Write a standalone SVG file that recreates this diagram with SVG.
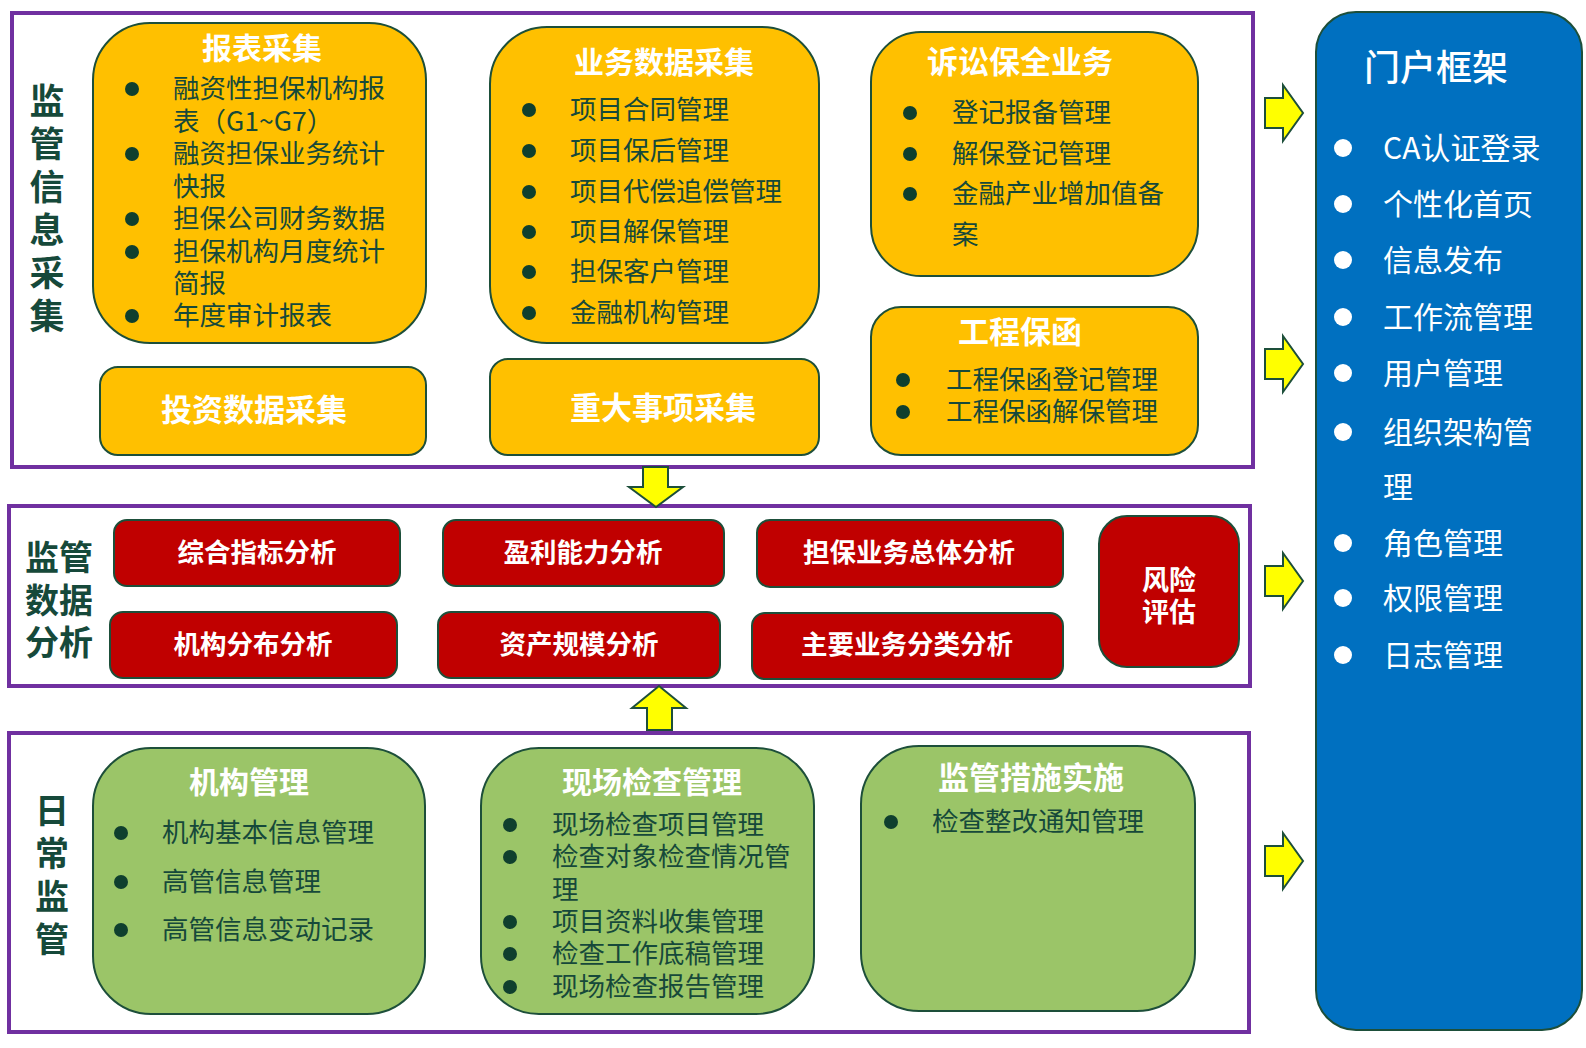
<svg xmlns="http://www.w3.org/2000/svg" width="1586" height="1048" viewBox="0 0 1586 1048">
<style>
text{font-family:"Noto Sans CJK SC","Noto Sans",sans-serif}
.frame{fill:#fff;stroke:#7030A0;stroke-width:4}
.yel{fill:#FFC000;stroke:#1D4F3A;stroke-width:2}
.red{fill:#C00000;stroke:#1D4F3A;stroke-width:2}
.grn{fill:#9BC568;stroke:#1D4F3A;stroke-width:2}
.blu{fill:#0070C0;stroke:#1D4F3A;stroke-width:2}
.arr{fill:#FFFF00;stroke:#1D4F3A;stroke-width:2;stroke-linejoin:miter}
.ttl{fill:#fff;font-weight:bold;font-size:30px;text-anchor:middle}
.item{fill:#16493A;font-size:26.5px}
.dot{fill:#0F3F2E}
.rtx{fill:#fff;font-weight:bold;font-size:26.5px;text-anchor:middle}
.vert{fill:#16493A;font-weight:bold;writing-mode:vertical-rl;text-orientation:upright}
.side2{fill:#16493A;font-weight:bold;font-size:34px;text-anchor:middle}
.bitem{fill:#fff;font-size:30px}
.wdot{fill:#fff}
</style>
<rect class="frame" x="12" y="13" width="1241" height="454"/>
<rect class="frame" x="9" y="506" width="1241" height="180"/>
<rect class="frame" x="9" y="733" width="1240" height="299"/>

<g id="label-jgxxcj">
<text class="vert" x="47" y="83" style="font-size:35px;letter-spacing:8px">监管信息采集</text>
</g>
<g id="label-jgsjfx">
<text class="side2"><tspan x="59" y="570">监管</tspan><tspan x="59" y="613">数据</tspan><tspan x="59" y="655">分析</tspan></text>
</g>
<g id="label-rcjg">
<text class="vert" x="52" y="793" style="font-size:34px;letter-spacing:9px">日常监管</text>
</g>

<g id="bbcj">
<rect class="yel" x="93" y="23" width="333" height="320" rx="57"/>
<text class="ttl" x="262" y="59">报表采集</text>
<circle class="dot" cx="132" cy="89" r="7"/>
<circle class="dot" cx="132" cy="154" r="7"/>
<circle class="dot" cx="132" cy="219" r="7"/>
<circle class="dot" cx="132" cy="252" r="7"/>
<circle class="dot" cx="132" cy="316" r="7"/>
<text class="item"><tspan x="173" y="98">融资性担保机构报</tspan><tspan x="173" y="131">表（G1~G7）</tspan><tspan x="173" y="163">融资担保业务统计</tspan><tspan x="173" y="196">快报</tspan><tspan x="173" y="228">担保公司财务数据</tspan><tspan x="173" y="261">担保机构月度统计</tspan><tspan x="173" y="293">简报</tspan><tspan x="173" y="325">年度审计报表</tspan></text>
</g>

<g id="ywsjcj">
<rect class="yel" x="490" y="27" width="329" height="316" rx="57"/>
<text class="ttl" x="664" y="73">业务数据采集</text>
<circle class="dot" cx="529" cy="110" r="7"/>
<circle class="dot" cx="529" cy="151" r="7"/>
<circle class="dot" cx="529" cy="192" r="7"/>
<circle class="dot" cx="529" cy="232" r="7"/>
<circle class="dot" cx="529" cy="272" r="7"/>
<circle class="dot" cx="529" cy="313" r="7"/>
<text class="item"><tspan x="570" y="119">项目合同管理</tspan><tspan x="570" y="160">项目保后管理</tspan><tspan x="570" y="201">项目代偿追偿管理</tspan><tspan x="570" y="241">项目解保管理</tspan><tspan x="570" y="281">担保客户管理</tspan><tspan x="570" y="322">金融机构管理</tspan></text>
</g>

<g id="ssbqyw">
<rect class="yel" x="871" y="32" width="327" height="244" rx="50"/>
<text class="ttl" x="1020" y="73" style="font-size:31px">诉讼保全业务</text>
<circle class="dot" cx="910" cy="113" r="7"/>
<circle class="dot" cx="910" cy="154" r="7"/>
<circle class="dot" cx="910" cy="194" r="7"/>
<text class="item"><tspan x="952" y="122">登记报备管理</tspan><tspan x="952" y="163">解保登记管理</tspan><tspan x="952" y="203">金融产业增加值备</tspan><tspan x="952" y="244">案</tspan></text>
</g>

<g id="gcbh">
<rect class="yel" x="871" y="307" width="327" height="148" rx="30"/>
<text class="ttl" x="1020" y="343" style="font-size:31px">工程保函</text>
<circle class="dot" cx="903" cy="380" r="7"/>
<circle class="dot" cx="903" cy="412" r="7"/>
<text class="item"><tspan x="946" y="389">工程保函登记管理</tspan><tspan x="946" y="421">工程保函解保管理</tspan></text>
</g>

<g id="tzsjcj">
<rect class="yel" x="100" y="367" width="326" height="88" rx="18"/>
<text class="ttl" x="254" y="421" style="font-size:31px">投资数据采集</text>
</g>

<g id="zdsxcj">
<rect class="yel" x="490" y="359" width="329" height="96" rx="18"/>
<text class="ttl" x="663" y="419" style="font-size:31px">重大事项采集</text>
</g>

<g id="zhzbfx">
<rect class="red" x="114" y="520" width="286" height="66" rx="13"/>
<text class="rtx" x="257" y="562">综合指标分析</text>
</g>
<g id="ylnlfx">
<rect class="red" x="443" y="520" width="281" height="66" rx="13"/>
<text class="rtx" x="583" y="562">盈利能力分析</text>
</g>
<g id="dbywztfx">
<rect class="red" x="757" y="520" width="306" height="67" rx="13"/>
<text class="rtx" x="909" y="562">担保业务总体分析</text>
</g>
<g id="jgfbfx">
<rect class="red" x="110" y="612" width="287" height="66" rx="13"/>
<text class="rtx" x="253" y="654">机构分布分析</text>
</g>
<g id="zcgmfx">
<rect class="red" x="438" y="612" width="282" height="66" rx="13"/>
<text class="rtx" x="579" y="654">资产规模分析</text>
</g>
<g id="zyywflfx">
<rect class="red" x="752" y="613" width="311" height="66" rx="13"/>
<text class="rtx" x="907" y="654">主要业务分类分析</text>
</g>
<g id="fxpg">
<rect class="red" x="1099" y="516" width="140" height="151" rx="28"/>
<text class="rtx" style="font-size:27px"><tspan x="1169" y="590">风险</tspan><tspan x="1169" y="622">评估</tspan></text>
</g>

<g id="jggl">
<rect class="grn" x="93" y="748" width="332" height="266" rx="58"/>
<text class="ttl" x="249" y="793">机构管理</text>
<circle class="dot" cx="121" cy="833" r="7"/>
<circle class="dot" cx="121" cy="882" r="7"/>
<circle class="dot" cx="121" cy="930" r="7"/>
<text class="item"><tspan x="162" y="842">机构基本信息管理</tspan><tspan x="162" y="891">高管信息管理</tspan><tspan x="162" y="939">高管信息变动记录</tspan></text>
</g>

<g id="xcjcgl">
<rect class="grn" x="481" y="748" width="333" height="266" rx="58"/>
<text class="ttl" x="652" y="793">现场检查管理</text>
<circle class="dot" cx="510" cy="825" r="7"/>
<circle class="dot" cx="510" cy="857" r="7"/>
<circle class="dot" cx="510" cy="922" r="7"/>
<circle class="dot" cx="510" cy="954" r="7"/>
<circle class="dot" cx="510" cy="987" r="7"/>
<text class="item"><tspan x="552" y="834">现场检查项目管理</tspan><tspan x="552" y="866">检查对象检查情况管</tspan><tspan x="552" y="899">理</tspan><tspan x="552" y="931">项目资料收集管理</tspan><tspan x="552" y="963">检查工作底稿管理</tspan><tspan x="552" y="996">现场检查报告管理</tspan></text>
</g>

<g id="jgcsss">
<rect class="grn" x="861" y="746" width="334" height="265" rx="58"/>
<text class="ttl" x="1031" y="789" style="font-size:31px">监管措施实施</text>
<circle class="dot" cx="891" cy="822" r="7"/>
<text class="item" x="932" y="831">检查整改通知管理</text>
</g>

<g id="mhkj">
<rect class="blu" x="1316" y="12" width="266" height="1018" rx="40"/>
<text x="1436" y="81" style="fill:#fff;font-size:36px;font-weight:500;text-anchor:middle">门户框架</text>
<circle class="wdot" cx="1343" cy="148" r="9"/>
<circle class="wdot" cx="1343" cy="204" r="9"/>
<circle class="wdot" cx="1343" cy="260" r="9"/>
<circle class="wdot" cx="1343" cy="317" r="9"/>
<circle class="wdot" cx="1343" cy="373" r="9"/>
<circle class="wdot" cx="1343" cy="432" r="9"/>
<circle class="wdot" cx="1343" cy="543" r="9"/>
<circle class="wdot" cx="1343" cy="598" r="9"/>
<circle class="wdot" cx="1343" cy="655" r="9"/>
<text class="bitem"><tspan x="1383" y="159">CA认证登录</tspan><tspan x="1383" y="215">个性化首页</tspan><tspan x="1383" y="271">信息发布</tspan><tspan x="1383" y="328">工作流管理</tspan><tspan x="1383" y="384">用户管理</tspan><tspan x="1383" y="443">组织架构管</tspan><tspan x="1383" y="498">理</tspan><tspan x="1383" y="554">角色管理</tspan><tspan x="1383" y="609">权限管理</tspan><tspan x="1383" y="666">日志管理</tspan></text>
</g>

<g id="connectors">
<polygon class="arr" points="643,467 668,467 668,487 683,487 656,507 629,487 643,487"/>
<polygon class="arr" points="647,730 672,730 672,708 686,708 659,686 632,708 647,708"/>
<polygon class="arr" points="1265,98 1283,98 1283,85 1303,113 1283,141 1283,128 1265,128"/>
<polygon class="arr" points="1265,349 1283,349 1283,336 1303,364 1283,392 1283,379 1265,379"/>
<polygon class="arr" points="1265,566 1283,566 1283,553 1303,581 1283,609 1283,596 1265,596"/>
<polygon class="arr" points="1265,846 1283,846 1283,833 1303,861 1283,889 1283,876 1265,876"/>
</g>
</svg>
